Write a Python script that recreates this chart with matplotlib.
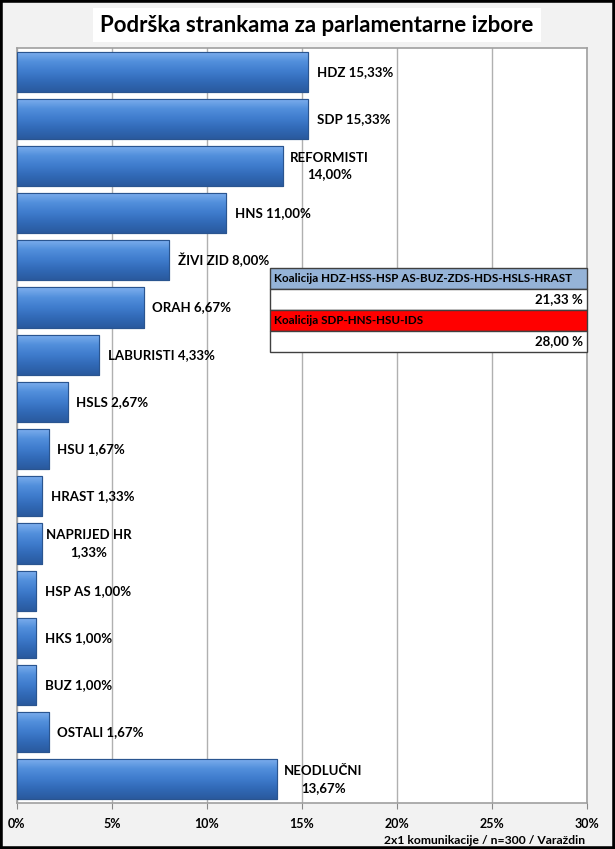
import matplotlib
matplotlib.use("Agg")
import matplotlib.pyplot as plt
import numpy as np
from matplotlib.patches import Rectangle
from matplotlib.colors import LinearSegmentedColormap

plt.rcParams['font.family'] = ['Lato', 'DejaVu Sans']

labels = ["HDZ 15,33%", "SDP 15,33%", "REFORMISTI\n14,00%", "HNS 11,00%", "ŽIVI ZID 8,00%",
          "ORAH 6,67%", "LABURISTI 4,33%", "HSLS 2,67%", "HSU 1,67%", "HRAST 1,33%",
          "NAPRIJED HR\n1,33%", "HSP AS 1,00%", "HKS 1,00%", "BUZ 1,00%", "OSTALI 1,67%",
          "NEODLUČNI\n13,67%"]
values = [15.33, 15.33, 14.00, 11.00, 8.00, 6.67, 4.33, 2.67, 1.67, 1.33, 1.33,
          1.00, 1.00, 1.00, 1.67, 13.67]
xticks = [0, 5, 10, 15, 20, 25, 30]
xticklabels = ["0%", "5%", "10%", "15%", "20%", "25%", "30%"]
coalitions = ["Koalicija HDZ-HSS-HSP AS-BUZ-ZDS-HDS-HSLS-HRAST", "Koalicija SDP-HNS-HSU-IDS"]
coalition_values = ["21,33 %", "28,00 %"]
coalition_colors = ["#95b3d7", "#ff0000"]

W, H = 615, 849
fig = plt.figure(figsize=(W/100, H/100), dpi=100)
fig.patch.set_facecolor("#f2f2f2")
fig.add_artist(Rectangle((0, 0), 1, 1, transform=fig.transFigure, fill=False,
                         edgecolor="black", linewidth=4))

ax = fig.add_axes([17/W, 1-803/H, (587-17)/W, (803-48)/H])
ax.set_facecolor("white")
n = len(values)
y = np.arange(n)
bars = ax.barh(y, values, height=0.85, color="#3d78c8", edgecolor="#2a5590",
               linewidth=0.8, zorder=3)
grad = np.linspace(0, 1, 100).reshape(-1, 1)
cmap = LinearSegmentedColormap.from_list("b", ["#80b0ee", "#5290dc", "#3f7ccd", "#3169b6", "#2a5a9e"])
for b in bars:
    x0, y0 = b.get_x(), b.get_y()
    w, h = b.get_width(), b.get_height()
    im = ax.imshow(grad, extent=[x0, x0 + w, y0 + h, y0], aspect="auto", cmap=cmap,
                   zorder=3.5, interpolation="bicubic")
    im.set_clip_path(b)
    ax.add_patch(Rectangle((x0, y0), w, h, fill=False, edgecolor="#2a5590",
                           linewidth=0.8, zorder=4))

for yi, v, lab in zip(y, values, labels):
    if "\n" in lab:
        ax.text(v + 2.45, yi, lab, ha="center", va="center", fontsize=9.5,
                fontweight="bold", linespacing=1.45, zorder=5)
    else:
        ax.text(v + 0.45, yi, lab, ha="left", va="center", fontsize=9.5,
                fontweight="bold", zorder=5)

ax.set_xlim(0, 30)
ax.set_ylim(n - 0.5, -0.5)
ax.set_xticks(xticks)
ax.set_xticklabels(xticklabels, fontsize=9, fontweight="bold")
ax.tick_params(axis="x", length=4, pad=7, color="#888888")
ax.set_yticks([])
ax.grid(axis="x", color="#b0b0b0", linewidth=1, zorder=0)
ax.set_axisbelow(True)
for s in ax.spines.values():
    s.set_color("#a0a0a0")
    s.set_linewidth(1.2)

fig.text(317/W, 1-25/H, "Podrška strankama za parlamentarne izbore", ha="center",
         va="center", fontsize=16, fontweight="bold",
         bbox=dict(facecolor="white", edgecolor="none", pad=5))

fig.text(585/W, 1-840/H, "2x1 komunikacije / n=300 / Varaždin", ha="right", va="center",
         fontsize=8.7, fontweight="bold")

tx0, tx1 = 270/W, 587/W
row_h = 21/H
top = 1-268/H
for i, (name, val, col) in enumerate(zip(coalitions, coalition_values, coalition_colors)):
    yh = top - (2*i + 1) * row_h
    yv = top - (2*i + 2) * row_h
    fig.add_artist(Rectangle((tx0, yh), tx1 - tx0, row_h, transform=fig.transFigure,
                             facecolor=col, edgecolor="#404040", linewidth=1, zorder=10))
    fig.add_artist(Rectangle((tx0, yv), tx1 - tx0, row_h, transform=fig.transFigure,
                             facecolor="white", edgecolor="#404040", linewidth=1, zorder=10))
    fig.text(tx0 + 4/W, yh + row_h/2, name, ha="left", va="center", fontsize=8.4,
             fontweight="bold", zorder=11)
    fig.text(tx1 - 4/W, yv + row_h/2, val, ha="right", va="center", fontsize=9.5,
             fontweight="bold", zorder=11)

fig.savefig("out.png", dpi=100, facecolor=fig.get_facecolor())
